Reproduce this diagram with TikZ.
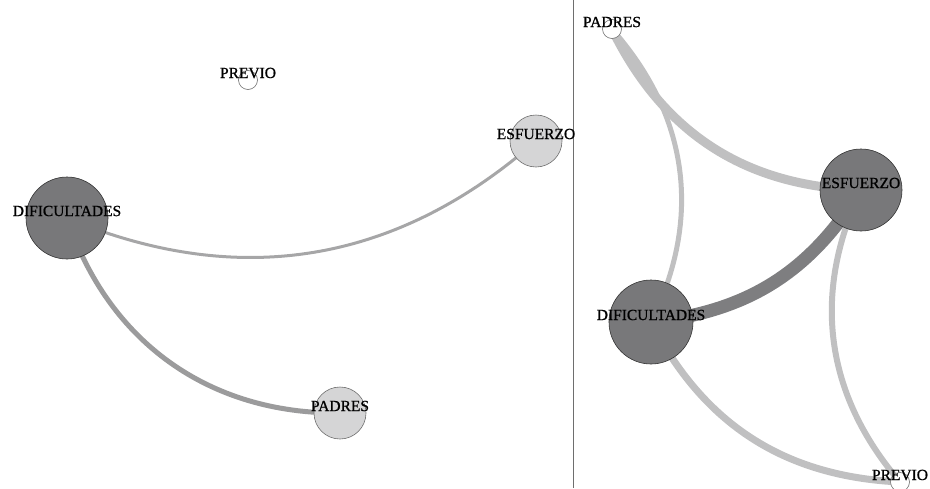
\documentclass[tikz,border=0pt]{standalone}
\usepackage{fontspec}
\setmainfont{Liberation Serif}
\newfontfamily\labfont{Liberation Serif}[FakeBold=0.9]
\usetikzlibrary{backgrounds}
\definecolor{darkfill}{HTML}{78787A}
\definecolor{lightfill}{HTML}{D5D5D6}
\definecolor{ringgray}{HTML}{6E6E6E}
\definecolor{edgeA}{HTML}{A6A6A7}
\definecolor{edgeB}{HTML}{9B9B9C}
\definecolor{edgeL}{HTML}{C0C0C1}
\definecolor{edgeD}{HTML}{7E7E80}
\tikzset{
  big/.style={circle,draw=black!80,line width=0.6pt,fill=darkfill,inner sep=0pt},
  mid/.style={circle,draw=ringgray,line width=0.6pt,fill=lightfill,inner sep=0pt,minimum size=52pt},
  small/.style={circle,draw=ringgray,line width=0.6pt,fill=white,inner sep=0pt,minimum size=19pt},
  lab/.style={font=\labfont\fontsize{15.5pt}{16pt}\selectfont,text=black,inner sep=0pt,yshift=7pt},
  link/.style={line cap=butt},
  vright/.style={bend right=#1},
  vleft/.style={bend left=#1}
}
\begin{document}
\begin{tikzpicture}[x=1pt,y=-1pt]
\useasboundingbox (0,0) rectangle (930,488);
% divider
\draw[ringgray,line width=0.8pt] (573,0) -- (573,488);
% left panel nodes
\node[small,label={[lab]center:PREVIO}] (lprev) at (248,80) {};
\node[mid,label={[lab]center:ESFUERZO}] (lesf) at (536,141) {};
\node[big,minimum size=82pt,label={[lab]center:DIFICULTADES}] (ldif) at (67,218) {};
\node[mid,label={[lab]center:PADRES}] (lpad) at (340,413) {};
% right panel nodes
\node[small,label={[lab]center:PADRES}] (rpad) at (612,29) {};
\node[big,minimum size=82pt,label={[lab]center:ESFUERZO}] (resf) at (861,190) {};
\node[big,minimum size=84pt,label={[lab]center:DIFICULTADES}] (rdif) at (651,322) {};
\node[small,label={[lab]center:PREVIO}] (rprev) at (900,482) {};
\begin{scope}[on background layer]
  \draw[link,edgeA,line width=3pt] (ldif.center) to[vright=32] (lesf.center);
  \draw[link,edgeB,line width=5pt] (ldif.center) to[vright=36] (lpad.center);
  \draw[link,edgeL,line width=9pt] (rpad.center) to[vright=31] (resf.center);
  \draw[link,edgeL,line width=5pt] (rpad.center) to[vleft=34] (rdif.center);
  \draw[link,edgeD,line width=13pt] (rdif.center) to[vright=26] (resf.center);
  \draw[link,edgeL,line width=7pt] (rdif.center) to[vright=30] (rprev.center);
  \draw[link,edgeL,line width=6pt] (resf.center) to[vright=33] (rprev.center);
\end{scope}
\end{tikzpicture}
\end{document}
